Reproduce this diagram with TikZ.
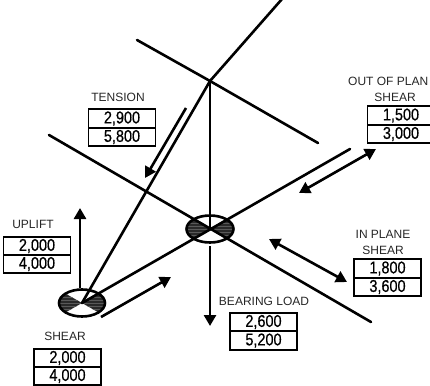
\documentclass[tikz,border=0pt]{standalone}
\usepackage{fontspec}
\setmainfont{Liberation Sans}
\newfontfamily\valfont[FakeBold=0.7]{Liberation Sans}
\usetikzlibrary{arrows.meta,shapes.geometric}
\definecolor{hatchdark}{gray}{0.16}
\tikzset{
  member/.style={line width=2.6pt,line cap=round},
  force/.style={line width=2.6pt,-{Triangle[length=11pt,width=12pt]}},
  forcetwo/.style={line width=2.6pt,{Triangle[length=11pt,width=12pt]}-{Triangle[length=11pt,width=12pt]}},
  lab/.style={inner sep=0pt,font=\fontsize{12}{16}\selectfont,text=black!85,align=center},
  cell/.style={draw=black,line width=1.6pt,minimum width=67pt,minimum height=18.5pt,inner sep=0pt,
    font=\valfont\fontsize{17}{17}\selectfont},
  joint/.style={ellipse,draw=black,line width=2.6pt,minimum width=46pt,minimum height=27pt,inner sep=0pt},
}
\newcommand{\val}[1]{\scalebox{0.85}[1]{#1}}
\newcommand{\jointfill}[3]{%
  \begin{scope}[shift={(#1,#2)}]
    \clip (0,0) ellipse [x radius=#3pt,y radius=14pt];
    \clip (0,0) -- (-28,-16) -- (-28,16) -- (0,0) -- (28,-16) -- (28,16) -- cycle;
    \fill[hatchdark] (-28,-16) rectangle (28,16);
    \foreach \d in {-9,-6,-3,0,3,6,9}{
      \draw[gray!70!black,line width=.3pt] (-28,\d) -- (28,\d);
    }
  \end{scope}}
\begin{document}
\begin{tikzpicture}[x=1pt,y=-1pt]
\useasboundingbox (0,0) rectangle (430,385);
\clip (0,0) rectangle (430,385);
% joints
\jointfill{210}{229}{24}
\jointfill{82}{303}{23}
\node[joint,minimum width=47pt,minimum height=27pt] (jc) at (210,229) {};
\node[joint] (jl) at (82,303) {};
% free ends
\coordinate (apex) at (210,81);
\coordinate (top) at (282,-1);
\coordinate (tl) at (137,40);
\coordinate (tr) at (318,143);
\coordinate (ml) at (49,135);
\coordinate (mr) at (371,322);
\coordinate (rr) at (350,149);
% members
\draw[member] (top) -- (apex) -- (jl.center);
\draw[member] (tl) -- (apex) -- (tr);
\draw[member] (apex) -- (jc.center);
\draw[member] (ml) -- (mr);
\draw[member] (jl.center) -- (rr);
% force arrows
\coordinate (u0) at (80,288); \coordinate (u1) at (80,208);
\coordinate (s0) at (101,317); \coordinate (s1) at (171,277);
\coordinate (b0) at (210,246); \coordinate (b1) at (210,326);
\coordinate (i0) at (269,239); \coordinate (i1) at (347,282);
\coordinate (o0) at (299,193); \coordinate (o1) at (376,149);
\coordinate (t0) at (186,108); \coordinate (t1) at (145,178);
\draw[force] (u0) -- (u1);
\draw[force] (s0) -- (s1);
\draw[force] (b0) -- (b1);
\draw[force] (t0) -- (t1);
\draw[forcetwo] (i0) -- (i1);
\draw[forcetwo] (o0) -- (o1);
% labels and values
\node[lab] (ltens) at (118,97) {TENSION};
\node[cell] (t2) at (122,118.5) {\val{2,900}};
\node[cell] (t5) at (122,137) {\val{5,800}};
\node[lab] (lup) at (33,224) {UPLIFT};
\node[cell] (u2) at (37,246) {\val{2,000}};
\node[cell] (u4) at (37,264) {\val{4,000}};
\node[lab] (lsh) at (65,336) {SHEAR};
\node[cell] (s2) at (67.5,358) {\val{2,000}};
\node[cell] (s4) at (67.5,376) {\val{4,000}};
\node[lab] (lbe) at (264,301) {BEARING LOAD};
\node[cell] (b2) at (263.5,322) {\val{2,600}};
\node[cell] (b5) at (263.5,340.5) {\val{5,200}};
\node[lab] (lin) at (383,242) {IN PLANE\\SHEAR};
\node[cell] (i8) at (387.5,268.5) {\val{1,800}};
\node[cell] (i6) at (387.5,287) {\val{3,600}};
\node[lab,anchor=west] (lou) at (348,81) {OUT OF PLAN};
\node[lab] (lous) at (395,97) {SHEAR};
\node[cell] (o5) at (401,115.5) {\val{1,500}};
\node[cell] (o3) at (401,134) {\val{3,000}};
\end{tikzpicture}
\end{document}
